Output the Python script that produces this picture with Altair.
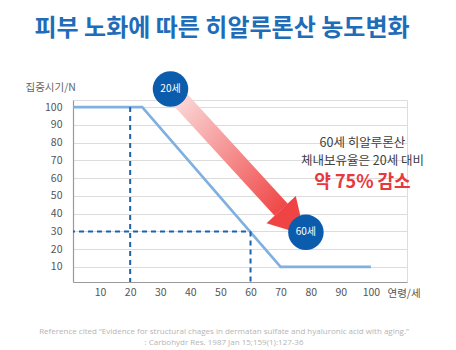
import altair as alt
import pandas as pd

# ---- data ----
ages = [0, 24, 70, 100]
levels = [100, 100, 10, 10]

tick_vals = [10, 20, 30, 40, 50, 60, 70, 80, 90, 100]

# dashed guide segments
seg_x = [20, 60, 0]
seg_x2 = [20, 60, 60]
seg_y = [100, 30, 30]
seg_y2 = [0, 0, 30]

# annotation circles
circle_age = [33.4, 78.4]
circle_level = [110.2, 29.5]
circle_label = ["20세", "60세"]

# arrow (from 20세 circle to head base) and head
arrow_age = [33.4, 70.2]
arrow_level = [110.2, 42.2]
head_age = [74.1]
head_level = [35.1]

note_age = [97.2, 97.2]
note_level = [79.6, 69.6]
note_text = ["60세 히알루론산", "체내보유율은 20세 대비"]
emph_age = [97.2]
emph_level = [57.0]
emph_text = ["약 75% 감소"]

footer1 = ["Reference cited \u201cEvidence for structural chages in dermatan sulfate and hyaluronic acid with aging.\u201d"]
footer2 = [": Carbohydr Res. 1987 Jan 15;159(1):127-36"]

KR = "Noto Sans CJK KR"

xs = alt.Scale(domain=[1, 112], nice=False, zero=False)
ys = alt.Scale(domain=[1.5, 104], nice=False, zero=False)

line_df = pd.DataFrame({"age": ages, "level": levels})
seg_df = pd.DataFrame({"age": seg_x, "age2": seg_x2, "level": seg_y, "level2": seg_y2})
circ_df = pd.DataFrame({"age": circle_age, "level": circle_level, "label": circle_label})
arrow_df = pd.DataFrame({"age": arrow_age, "level": arrow_level})
head_df = pd.DataFrame({"age": head_age, "level": head_level})
note_df = pd.DataFrame({"age": note_age, "level": note_level, "t": note_text})
emph_df = pd.DataFrame({"age": emph_age, "level": emph_level, "t": emph_text})
foot1_df = pd.DataFrame({"t": footer1})
foot2_df = pd.DataFrame({"t": footer2})

x_axis = alt.Axis(
    values=tick_vals, grid=False, ticks=False, tickSize=0, labelPadding=5,
    labelOverlap=False,
    labelFont=KR, labelFontSize=10.5, labelColor="#555555",
    domainColor="#9a9a9a", domainWidth=1.2,
    title="연령/세", titleFont=KR, titleFontSize=10.5, titleFontWeight="normal",
    titleColor="#555555", titleX=314, titleY=11, titleAlign="left",
    titleBaseline="middle", titleAnchor="start",
)
y_axis = alt.Axis(
    values=tick_vals, grid=True, gridColor="#dcdcdc", gridWidth=1,
    ticks=False, tickSize=0, labelPadding=11, labelOverlap=False,
    labelFont=KR, labelFontSize=10.5, labelColor="#555555",
    domainColor="#9a9a9a", domainWidth=1.2,
    title="집중시기/N", titleFont=KR, titleFontSize=10.5, titleFontWeight="normal",
    titleColor="#666666", titleAngle=0, titleX=-48, titleY=-13,
    titleAlign="left", titleBaseline="middle",
)

X = alt.X("age:Q", scale=xs, axis=x_axis)
Y = alt.Y("level:Q", scale=ys, axis=y_axis)

base = alt.Chart(line_df).mark_line(color="#7fb0e0", strokeWidth=2.6, clip=True).encode(x=X, y=Y)

dashes = alt.Chart(seg_df).mark_rule(
    color="#1d62ad", strokeWidth=2, strokeDash=[5, 4], clip=True
).encode(x=X, x2="age2:Q", y=Y, y2="level2:Q")

grad = alt.Gradient(
    gradient="linear",
    stops=[
        alt.GradientStop(color="#fde4e4", offset=0),
        alt.GradientStop(color="#f9c4c4", offset=0.2),
        alt.GradientStop(color="#f04848", offset=1),
    ],
    x1=0, y1=0, x2=1, y2=1,
)

shaft = alt.Chart(arrow_df).mark_line(stroke=grad, strokeWidth=18, strokeCap="butt").encode(x=X, y=Y)

head = alt.Chart(head_df).mark_point(
    shape="triangle-up", angle=137, size=1600, filled=True,
    fill="#f04444", color="#f04444", opacity=1, strokeWidth=0,
).encode(x=X, y=Y)

circles = alt.Chart(circ_df).mark_circle(size=1260, color="#0b5cad", opacity=1).encode(x=X, y=Y)

circ_text = alt.Chart(circ_df).mark_text(
    color="white", font=KR, fontSize=10, align="center", baseline="middle"
).encode(x=X, y=Y, text="label:N")

notes = alt.Chart(note_df).mark_text(
    color="#404040", font=KR, fontSize=12.5, align="center", baseline="middle"
).encode(x=X, y=Y, text="t:N")

emph = alt.Chart(emph_df).mark_text(
    color="#e8383d", font=KR, fontSize=18, fontWeight="bold", align="center", baseline="middle"
).encode(x=X, y=Y, text="t:N")

foot1 = alt.Chart(foot1_df).mark_text(
    color="#b5b5b5", font="Open Sans", fontSize=8, align="center", baseline="middle"
).encode(x=alt.value(151), y=alt.value(232), text="t:N")
foot2 = alt.Chart(foot2_df).mark_text(
    color="#b5b5b5", font="Open Sans", fontSize=8, align="center", baseline="middle"
).encode(x=alt.value(151), y=alt.value(243), text="t:N")

chart = alt.layer(
    base, dashes, shaft, head, circles, circ_text, notes, emph, foot1, foot2
).properties(
    width=334,
    height=182,
    title=alt.TitleParams(
        "피부 노화에 따른 히알루론산 농도변화",
        font=KR, fontSize=24, fontWeight="bold", color="#1f6cb9",
        anchor="middle", frame="group", dx=-18, offset=12,
    ),
    autosize=alt.AutoSizeParams(type="none"),
    padding={"left": 73, "top": 100, "right": 49, "bottom": 68},
).configure_axis(
    labelOverlap=False, labelBound=False, labelFlush=False
).configure_view(strokeWidth=0, stroke="transparent").configure(background="white")

chart.save("out.html", embed_options={"renderer": "svg", "actions": False})
